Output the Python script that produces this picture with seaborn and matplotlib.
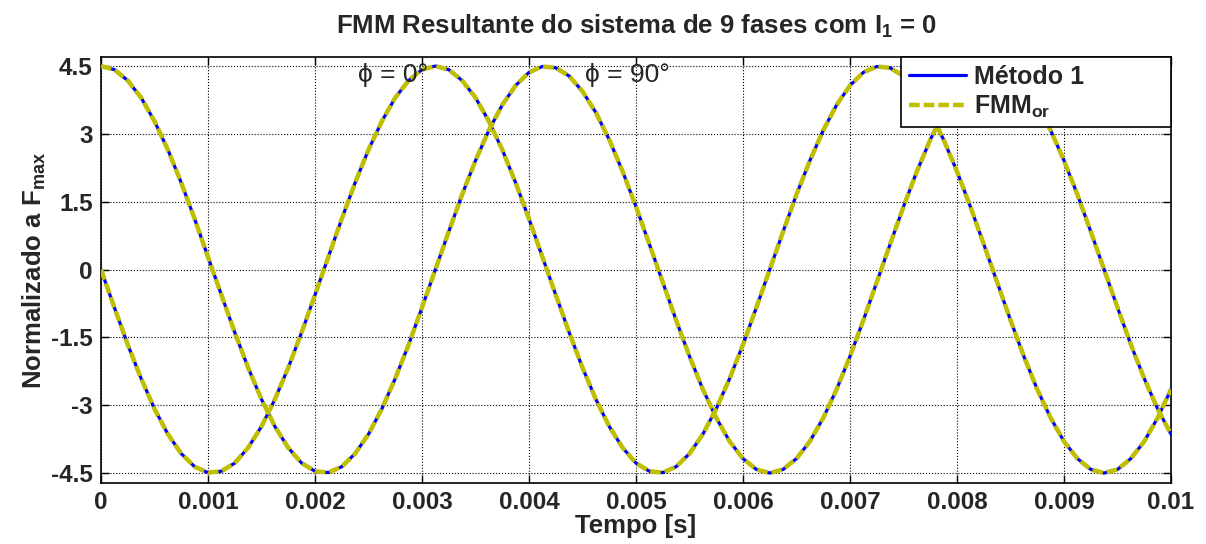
import numpy as np
import pandas as pd
import matplotlib
matplotlib.use("Agg")
import matplotlib.pyplot as plt
import seaborn as sns

# ---- data ----
t_start, t_end, n_samples = 0.0, 0.01, 81
curve_a = [4.50, 4.42, 4.18, 3.80, 3.28, 2.65, 1.92, 1.12, 0.28, -0.56,
           -1.39, -2.17, -2.87, -3.47, -3.94, -4.28, -4.46, -4.49, -4.36, -4.07,
           -3.64, -3.08, -2.41, -1.66, -0.84, 0.00, 0.84, 1.66, 2.41, 3.08,
           3.64, 4.07, 4.36, 4.49, 4.46, 4.28, 3.94, 3.47, 2.87, 2.17,
           1.39, 0.56, -0.28, -1.12, -1.92, -2.65, -3.28, -3.80, -4.18, -4.42,
           -4.50, -4.42, -4.18, -3.80, -3.28, -2.65, -1.92, -1.12, -0.28, 0.56,
           1.39, 2.17, 2.87, 3.47, 3.94, 4.28, 4.46, 4.49, 4.36, 4.07,
           3.64, 3.08, 2.41, 1.66, 0.84, 0.00, -0.84, -1.66, -2.41, -3.08,
           -3.64]
curve_b = [0.00, -0.84, -1.66, -2.41, -3.08, -3.64, -4.07, -4.36, -4.49, -4.46,
           -4.28, -3.94, -3.47, -2.87, -2.17, -1.39, -0.56, 0.28, 1.12, 1.92,
           2.65, 3.28, 3.80, 4.18, 4.42, 4.50, 4.42, 4.18, 3.80, 3.28,
           2.65, 1.92, 1.12, 0.28, -0.56, -1.39, -2.17, -2.87, -3.47, -3.94,
           -4.28, -4.46, -4.49, -4.36, -4.07, -3.64, -3.08, -2.41, -1.66, -0.84,
           0.00, 0.84, 1.66, 2.41, 3.08, 3.64, 4.07, 4.36, 4.49, 4.46,
           4.28, 3.94, 3.47, 2.87, 2.17, 1.39, 0.56, -0.28, -1.12, -1.92,
           -2.65, -3.28, -3.80, -4.18, -4.42, -4.50, -4.42, -4.18, -3.80, -3.28,
           -2.65]
x_ticks = [0, 0.001, 0.002, 0.003, 0.004, 0.005, 0.006, 0.007, 0.008, 0.009, 0.01]
x_tick_labels = ["0", "0.001", "0.002", "0.003", "0.004", "0.005", "0.006",
                 "0.007", "0.008", "0.009", "0.01"]
y_ticks = [-4.5, -3, -1.5, 0, 1.5, 3, 4.5]
y_tick_labels = ["-4.5", "-3", "-1.5", "0", "1.5", "3", "4.5"]
series_labels = ["Método 1", "FMM$_{or}$"]
annotations = [(0.0024, 4.3, "ϕ = 0°"), (0.00452, 4.3, "ϕ = 90°")]

t = np.linspace(t_start, t_end, n_samples)
df = pd.DataFrame({"t": t, "a": curve_a, "b": curve_b})

sns.set_style("white")
plt.rcParams["font.family"] = ["Liberation Sans", "DejaVu Sans"]
plt.rcParams["mathtext.fontset"] = "custom"
plt.rcParams["mathtext.rm"] = "Liberation Sans:bold"
plt.rcParams["mathtext.it"] = "Liberation Sans:bold"
plt.rcParams["mathtext.bf"] = "Liberation Sans:bold"
plt.rcParams["mathtext.default"] = "bf"

fig = plt.figure(figsize=(12.06, 5.44), dpi=100)
ax = fig.add_axes([101 / 1206, 1 - 483 / 544, 1070 / 1206, 426 / 544])

blue = "#0000FF"
yellow = "#BFBF00"
for i, col in enumerate(["a", "b"]):
    sns.lineplot(data=df, x="t", y=col, ax=ax, color=blue, lw=2.3,
                 label=series_labels[0] if i == 0 else None, zorder=3)
for i, col in enumerate(["a", "b"]):
    sns.lineplot(data=df, x="t", y=col, ax=ax, color=yellow, lw=3.2,
                 label=series_labels[1] if i == 0 else None, zorder=4)
for line in ax.get_lines()[2:4]:
    line.set_dashes((2.4, 0.9))

ax.set_xlim(0, 0.01)
ax.set_ylim(-4.72, 4.7)
ax.set_xticks(x_ticks)
ax.set_xticklabels(x_tick_labels, fontsize=17.5, fontweight="bold")
ax.set_yticks(y_ticks)
ax.set_yticklabels(y_tick_labels, fontsize=17.5, fontweight="bold")
ax.tick_params(direction="in", length=6, width=1, top=True, right=True,
               bottom=True, left=True, color="black", pad=6)
ax.grid(True, linestyle=":", color="black", linewidth=0.8)
for s in ax.spines.values():
    s.set_visible(True)
    s.set_color("black")
    s.set_linewidth(1.2)

ax.set_xlabel("Tempo [s]", fontsize=18.5, fontweight="bold", labelpad=0)
ax.set_ylabel("Normalizado a F$_{max}$", fontsize=18.5, fontweight="bold", labelpad=2)
ax.set_title("FMM Resultante do sistema de 9 fases com I$_1$ = 0",
             fontsize=18.5, fontweight="bold", pad=17)

for x, y, txt in annotations:
    ax.text(x, y, txt, fontsize=19, va="center", ha="left",
            fontweight="normal", zorder=5)

leg_x0 = (901 - 101) / 1070
leg_h = 80 / 426
leg = ax.legend(loc="upper left", bbox_to_anchor=(leg_x0, 1 - leg_h, 1 - leg_x0, leg_h),
                mode="expand", borderaxespad=0, frameon=True, fancybox=False,
                framealpha=1, edgecolor="black", handlelength=2.3,
                prop={"size": 18, "weight": "bold"}, borderpad=0.3,
                labelspacing=0.2, handletextpad=0.3)
leg.get_frame().set_linewidth(1.2)
leg.set_zorder(10)

fig.savefig("out.png", dpi=100, facecolor="white")
